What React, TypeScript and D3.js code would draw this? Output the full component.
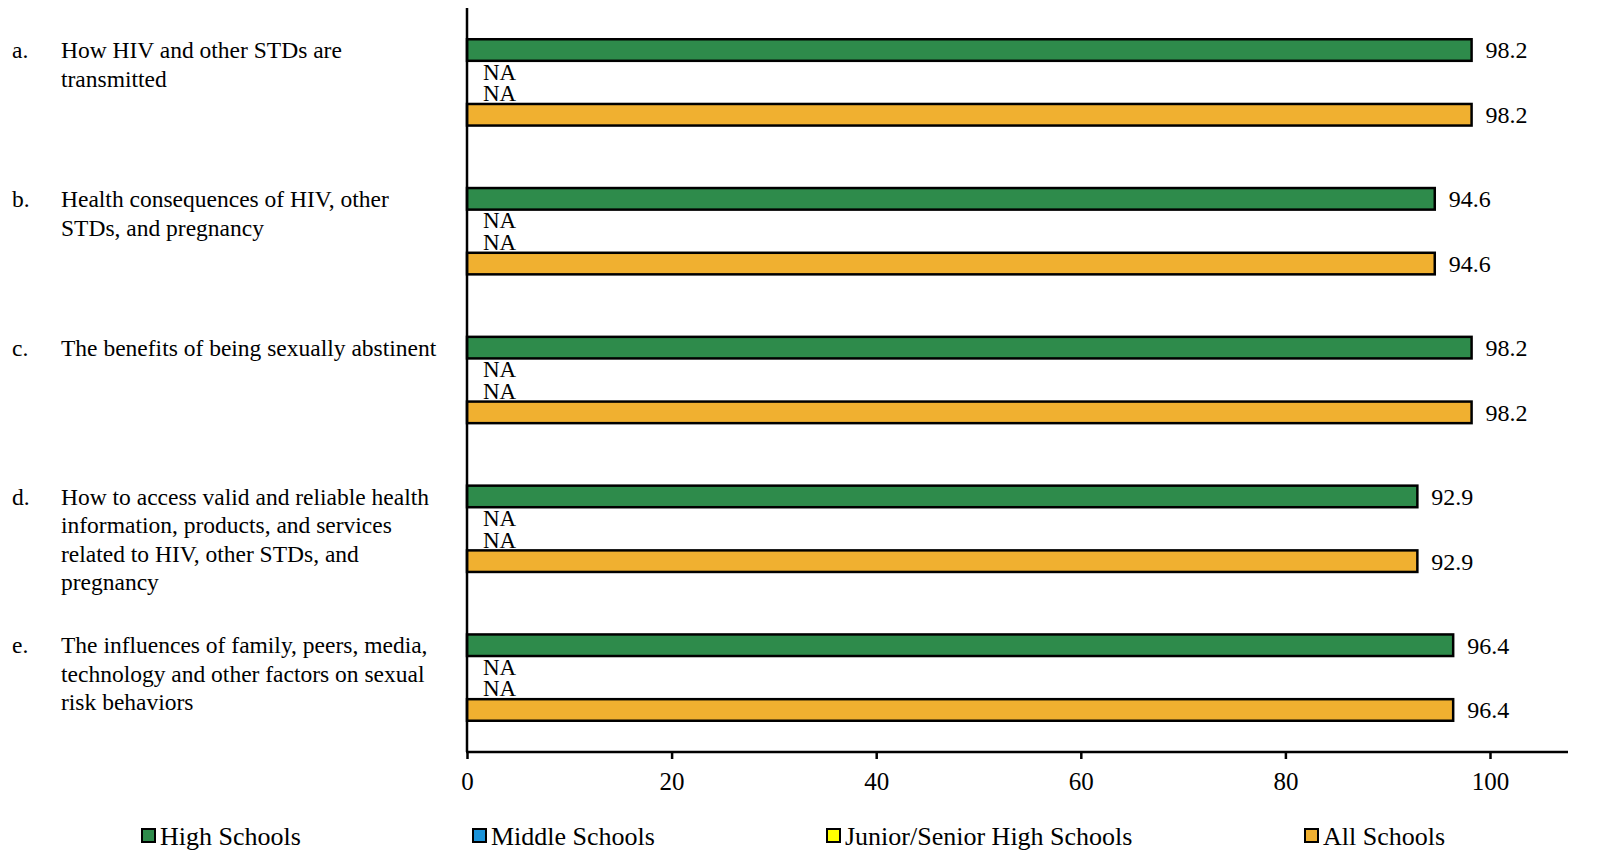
import React, { useEffect, useRef } from 'react';
import * as d3 from 'd3';

const categories = ['a', 'b', 'c', 'd', 'e'];
const categoryLetters = ['a.', 'b.', 'c.', 'd.', 'e.'];
const categoryLines = [
    ['How HIV and other STDs are', 'transmitted'],
    ['Health consequences of HIV, other', 'STDs, and pregnancy'],
    ['The benefits of being sexually abstinent'],
    ['How to access valid and reliable health', 'information, products, and services', 'related to HIV, other STDs, and', 'pregnancy'],
    ['The influences of family, peers, media,', 'technology and other factors on sexual', 'risk behaviors'],
];

const seriesNames = ['High Schools', 'Middle Schools', 'Junior/Senior High Schools', 'All Schools'];
const seriesColours = ['#2E8B4B', '#1B93D9', '#FFFF00', '#F0B030'];

// null = NA
const highSchools = [98.2, 94.6, 98.2, 92.9, 96.4];
const middleSchools: (number | null)[] = [null, null, null, null, null];
const juniorSeniorHigh: (number | null)[] = [null, null, null, null, null];
const allSchools = [98.2, 94.6, 98.2, 92.9, 96.4];

const xTicks = [0, 20, 40, 60, 80, 100];

const seriesValues = [highSchools, middleSchools, juniorSeniorHigh, allSchools];

export default function App() {
    const ref = useRef(null);
    const width = 1602;
    const height = 868;

    useEffect(() => {
        const svg = d3.select(ref.current);
        svg.selectAll('*').remove();

        const font = '"Liberation Serif", "Times New Roman", serif';
        const left = 467;
        const top = 8;
        const bottom = 752;

        const x = d3.scaleLinear().domain([0, 100]).range([left, 1490]);
        const y = d3.scaleBand().domain(categories).range([top, bottom]).paddingInner(0.42).paddingOuter(0.21);
        const ySeries = d3.scaleBand().domain(seriesNames).range([0, y.bandwidth()]);

        categories.forEach((cat, ci) => {
            const g = svg.append('g').attr('transform', `translate(0, ${y(cat)})`);
            seriesNames.forEach((name, si) => {
                const v = seriesValues[si][ci];
                const yy = ySeries(name)!;
                const cy = yy + ySeries.bandwidth() / 2;
                if (v === null) {
                    g.append('text')
                        .attr('x', x(0) + 16)
                        .attr('y', cy)
                        .attr('dy', '0.35em')
                        .attr('font-family', font)
                        .attr('font-size', 23)
                        .text('NA');
                    return;
                }
                g.append('rect')
                    .attr('x', x(0))
                    .attr('y', yy)
                    .attr('width', x(v) - x(0))
                    .attr('height', ySeries.bandwidth())
                    .attr('fill', seriesColours[si])
                    .attr('stroke', '#000')
                    .attr('stroke-width', 2.5);
                g.append('text')
                    .attr('x', x(v) + 14)
                    .attr('y', cy)
                    .attr('dy', '0.35em')
                    .attr('font-family', font)
                    .attr('font-size', 24)
                    .text(v.toFixed(1));
            });

            // category label, first line level with the High Schools bar
            const labelY = y(cat)! + ySeries(seriesNames[0])! + ySeries.bandwidth() / 2;
            svg.append('text')
                .attr('x', 12)
                .attr('y', labelY)
                .attr('dy', '0.35em')
                .attr('font-family', font)
                .attr('font-size', 23.5)
                .text(categoryLetters[ci]);
            categoryLines[ci].forEach((line, li) => {
                svg.append('text')
                    .attr('x', 61)
                    .attr('y', labelY + li * 28.5)
                    .attr('dy', '0.35em')
                    .attr('font-family', font)
                    .attr('font-size', 23.5)
                    .text(line);
            });
        });

        // axes
        svg.append('line')
            .attr('x1', x(0)).attr('x2', x(0))
            .attr('y1', top).attr('y2', bottom)
            .attr('stroke', '#000').attr('stroke-width', 2.5);

        const xAxis = svg.append('g')
            .attr('transform', `translate(0, ${bottom})`)
            .call(d3.axisBottom(x).tickValues(xTicks).tickSize(7).tickPadding(13).tickFormat(d3.format('d')));
        xAxis.select('.domain').remove();
        xAxis.selectAll('.tick line').attr('stroke-width', 2.5);
        xAxis.selectAll('.tick text')
            .attr('font-family', font)
            .attr('font-size', 25)
            .attr('fill', '#000');
        svg.append('line')
            .attr('x1', x(0) - 1).attr('x2', 1568)
            .attr('y1', bottom).attr('y2', bottom)
            .attr('stroke', '#000').attr('stroke-width', 2.5);

        // legend
        const legendX = [141, 472, 826, 1304];
        seriesNames.forEach((name, si) => {
            const g = svg.append('g').attr('transform', `translate(${legendX[si]}, 836)`);
            g.append('rect')
                .attr('x', 1).attr('y', -7)
                .attr('width', 13).attr('height', 13)
                .attr('fill', seriesColours[si])
                .attr('stroke', '#000').attr('stroke-width', 2);
            g.append('text')
                .attr('x', 19)
                .attr('y', 0)
                .attr('dy', '0.35em')
                .attr('font-family', font)
                .attr('font-size', 26)
                .text(name);
        });
    }, []);

    return (
        <svg ref={ref} width={width} height={height} viewBox={`0 0 ${width} ${height}`}
            style={{ position: 'absolute', left: 0, top: 0, background: '#fff' }}>
        </svg>
    );
}
